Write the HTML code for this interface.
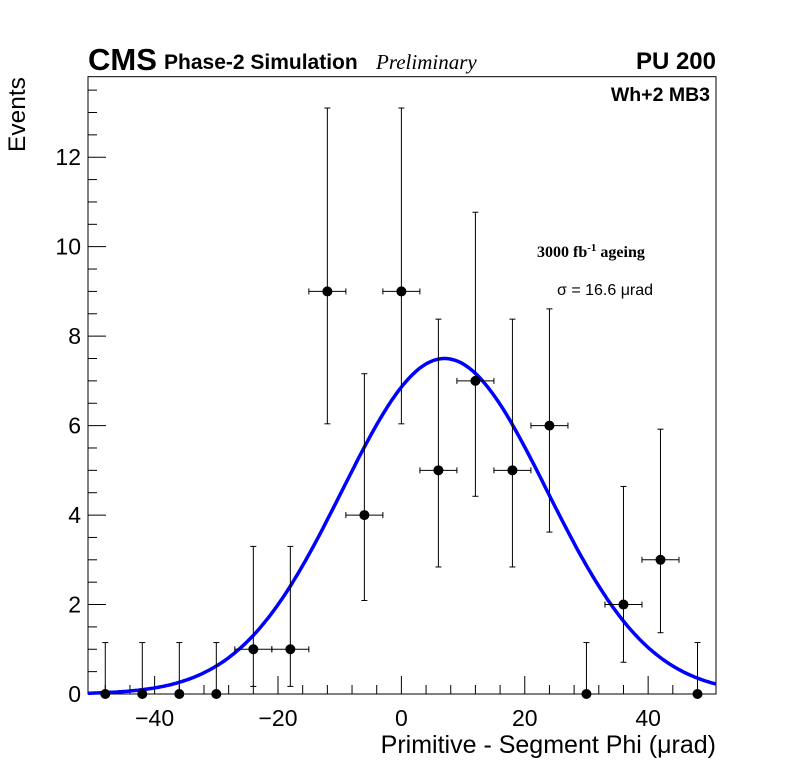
<!DOCTYPE html>
<html><head><meta charset="utf-8"><style>
body{margin:0;background:#fff;}
svg text{font-family:"Liberation Sans",sans-serif;}
</style></head><body>
<svg id="c" width="796" height="772" xmlns="http://www.w3.org/2000/svg">
<rect width="796" height="772" fill="#fff"/>
<g id="axes"></g><g id="marks"></g>
<text x="88" y="70" font-size="31" font-weight="bold">CMS</text>
<text x="164" y="69" font-size="21" font-weight="bold">Phase-2 Simulation</text>
<text x="376" y="69" font-size="21" font-style="italic" style="font-family:'Liberation Serif',serif">Preliminary</text>
<text x="716" y="69" font-size="24" font-weight="bold" text-anchor="end">PU 200</text>
<text x="710" y="101" font-size="19.5" font-weight="bold" text-anchor="end">Wh+2 MB3</text>
<text x="537" y="257" font-size="16" font-weight="bold" style="font-family:'Liberation Serif',serif">3000 fb<tspan dy="-6" font-size="11">-1</tspan><tspan dy="6"> ageing</tspan></text>
<text x="557" y="295" font-size="16">σ = 16.6 μrad</text>
<text transform="translate(25,152) rotate(-90)" font-size="24.5">Events</text>
<text x="716" y="753" font-size="25" text-anchor="end">Primitive - Segment Phi (μrad)</text>
</svg>
<script>
const binCenters=[-48,-42,-36,-30,-24,-18,-12,-6,0,6,12,18,24,30,36,42,48];
const counts=[0,0,0,0,1,1,9,4,9,5,7,5,6,0,2,3,0];
const errLow=[0,0,0,0,0.83,0.83,2.96,1.91,2.96,2.16,2.58,2.16,2.38,0,1.29,1.63,0];
const errHigh=[1.15,1.15,1.15,1.15,2.3,2.3,4.1,3.16,4.1,3.38,3.77,3.38,2.61,1.15,2.64,2.92,1.15];
const fitParams=[7.5,7.0,16.6];
const xTicks=[-40,-20,0,20,40];
const yTicks=[0,2,4,6,8,10,12];
const X0=88,X1=716,Y0=694,Y1=76.7,xmin=-50.8,xmax=51,ymin=0,ymax=13.8;
const sx=v=>X0+(v-xmin)/(xmax-xmin)*(X1-X0);
const sy=v=>Y0-(v-ymin)/(ymax-ymin)*(Y0-Y1);
const NS="http://www.w3.org/2000/svg";
const ax=document.getElementById('axes'),mk=document.getElementById('marks');
function el(p,t,a){const e=document.createElementNS(NS,t);for(const k in a)e.setAttribute(k,a[k]);p.appendChild(e);return e;}
let f=el(ax,'rect',{x:X0,y:Y1,width:X1-X0,height:Y0-Y1,fill:'none',stroke:'#000','stroke-width':1});


for(let v=-48;v<=50;v+=4){const M=(v%20===0);const l=el(ax,'line',{x1:sx(v),x2:sx(v),y1:Y0,y2:Y0-(M?18:9),stroke:'#000'});

}
for(let v=0;v<=13.5;v+=0.5){const M=(Math.abs(v%2)<1e-9);const l=el(ax,'line',{x1:X0,x2:X0+(M?18:9),y1:sy(v),y2:sy(v),stroke:'#000'});

}
xTicks.forEach(v=>{const t=el(ax,'text',{x:sx(v),y:726,'font-size':23,'text-anchor':'middle'});t.textContent=(v<0?'−'+(-v):v);

});
yTicks.forEach(v=>{const t=el(ax,'text',{x:81,y:sy(v)+8,'font-size':23,'text-anchor':'end'});t.textContent=v;

});
let d='';for(let i=0;i<=300;i++){const x=xmin+(xmax-xmin)*i/300;const y=fitParams[0]*Math.exp(-Math.pow(x-fitParams[1],2)/(2*fitParams[2]*fitParams[2]));d+=(i?'L':'M')+sx(x).toFixed(1)+','+sy(y).toFixed(1);}
const c=el(mk,'path',{d:d,fill:'none',stroke:'#0000ff','stroke-width':3.5});


binCenters.forEach((x,i)=>{const g=el(mk,'g',{});


const cx=sx(x),cy=sy(counts[i]),yl=sy(counts[i]-errLow[i]),yh=sy(counts[i]+errHigh[i]);
el(g,'line',{x1:cx,x2:cx,y1:yl,y2:yh,stroke:'#000'});
el(g,'line',{x1:cx-3,x2:cx+3,y1:yh,y2:yh,stroke:'#000'});
if(errLow[i]>0)el(g,'line',{x1:cx-3,x2:cx+3,y1:yl,y2:yl,stroke:'#000'});
if(counts[i]>0){const a=sx(x-3),b=sx(x+3);el(g,'line',{x1:a,x2:b,y1:cy,y2:cy,stroke:'#000'});
el(g,'line',{x1:a,x2:a,y1:cy-3,y2:cy+3,stroke:'#000'});el(g,'line',{x1:b,x2:b,y1:cy-3,y2:cy+3,stroke:'#000'});}
el(g,'circle',{cx:cx,cy:cy,r:5,fill:'#000'});});
</script>
</body></html>
